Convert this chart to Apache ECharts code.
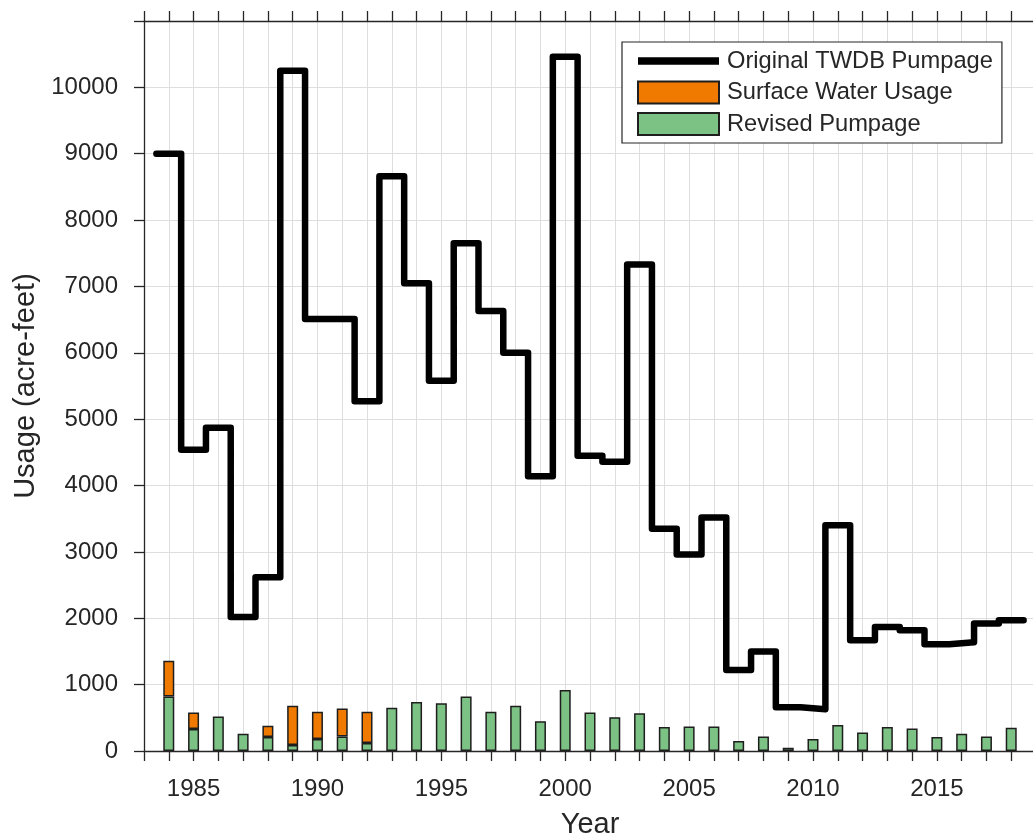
<!DOCTYPE html>
<html><head><meta charset="utf-8">
<script src="https://cdn.jsdelivr.net/npm/echarts@6/dist/echarts.min.js"></script>
<style>html,body{margin:0;padding:0;background:#fff}#c{width:1033px;height:834px}</style>
</head><body><div id="c"></div>
<script>
const years = [1984,1985,1986,1987,1988,1989,1990,1991,1992,1993,1994,1995,1996,1997,1998,1999,2000,2001,2002,2003,2004,2005,2006,2007,2008,2009,2010,2011,2012,2013,2014,2015,2016,2017,2018];
const originalPumpage = [9000,4540,4870,2020,2620,10250,6510,6510,5270,8660,7050,5580,7650,6630,6000,4140,10460,4450,4360,7330,3350,2960,3520,1220,1500,660,630,3400,1670,1870,1820,1610,1640,1920,1970];
const revisedPumpage = [820,330,520,260,210,90,180,220,120,650,740,720,820,590,680,450,920,580,510,570,360,370,370,150,220,50,180,390,280,360,340,210,260,220,350];
const surfaceWater = [540,250,0,0,170,590,410,420,470,0,0,0,0,0,0,0,0,0,0,0,0,0,0,0,0,0,0,0,0,0,0,0,0,0,0];
const yTicks = [0,1000,2000,3000,4000,5000,6000,7000,8000,9000,10000];
const xLabelYears = [1985,1990,1995,2000,2005,2010,2015];

const FONT = '"Liberation Sans", Arial, Helvetica, sans-serif';
const AX = '#262626';

const stepData = years.map((y,i)=>[y-0.5, originalPumpage[i]]);
stepData.push([years[years.length-1]+0.5, originalPumpage[originalPumpage.length-1]]);

const LINE_ICON = 'path://M0,0h0.01v0.01h-0.01z M0,7.2h81v7.6h-81z M80.99,21.99h0.01v0.01h-0.01z';

const chart = echarts.init(document.getElementById('c'), null, {renderer:'canvas'});
const xBase = {
  type:'value', min:1983, max:2019, interval:1,
  axisLine:{show:true, onZero:false, lineStyle:{color:AX, width:1.3}},
  axisTick:{show:true, inside:false, length:10, lineStyle:{color:AX, width:1.3}},
};
chart.setOption({
  animation:false,
  backgroundColor:'#fff',
  textStyle:{fontFamily:FONT},
  grid:{left:144, top:21, right:-3, bottom:83, containLabel:false, outerBoundsMode:'none'},
  xAxis:[
    Object.assign({}, xBase, {
      position:'bottom',
      name:'Year', nameLocation:'middle', nameGap:59,
      nameTextStyle:{fontSize:29, color:AX, fontFamily:FONT},
      axisLabel:{fontSize:24, color:AX, margin:26, fontFamily:FONT,
        formatter:(v)=> xLabelYears.indexOf(v) >= 0 ? String(v) : ''},
      splitLine:{show:true, lineStyle:{color:'#dedede', width:1}}
    }),
    Object.assign({}, xBase, {
      position:'top',
      axisLabel:{show:false},
      splitLine:{show:false}
    })
  ],
  yAxis:{
    type:'value', min:0, max:11000, interval:1000,
    name:'Usage (acre-feet)', nameLocation:'middle', nameGap:100,
    nameTextStyle:{fontSize:29, color:AX, fontFamily:FONT},
    axisLine:{show:true, lineStyle:{color:AX, width:1.3}},
    axisTick:{show:true, inside:false, length:10, lineStyle:{color:AX, width:1.3}},
    axisLabel:{fontSize:24, color:AX, margin:26, fontFamily:FONT,
      formatter:(v)=> yTicks.indexOf(v) >= 0 ? String(v) : ''},
    splitLine:{show:true, lineStyle:{color:'#dedede', width:1}}
  },
  legend:{
    orient:'vertical', left:622, top:42, padding:[7,9,7,15],
    itemWidth:81, itemHeight:22, itemGap:7.5,
    borderColor:AX, borderWidth:1.2, backgroundColor:'#fff',
    textStyle:{fontSize:23.7, color:AX, fontFamily:FONT, padding:[0,0,0,3]},
    data:[
      {name:'Original TWDB Pumpage', icon:LINE_ICON, itemStyle:{color:'#000', borderWidth:0}},
      {name:'Surface Water Usage', icon:'rect'},
      {name:'Revised Pumpage', icon:'rect'}
    ]
  },
  series:[
    {
      name:'Revised Pumpage', type:'bar', stack:'use', xAxisIndex:0,
      barWidth:11, encode:{x:1, y:0},
      itemStyle:{color:'#7cc284', borderColor:'#1e1e1e', borderWidth:1.5},
      data: years.map((y,i)=>[revisedPumpage[i], y])
    },
    {
      name:'Surface Water Usage', type:'bar', stack:'use', xAxisIndex:0,
      barWidth:11, encode:{x:1, y:0},
      itemStyle:{color:'#f07a00', borderColor:'#1e1e1e', borderWidth:1.5},
      data: years.map((y,i)=>[surfaceWater[i] > 0 ? surfaceWater[i] : '-', y])
    },
    {
      name:'Original TWDB Pumpage', type:'line', xAxisIndex:0,
      step:'end', symbol:'none', showSymbol:false, z:5,
      lineStyle:{color:'#000', width:6.5, join:'round', cap:'round'},
      itemStyle:{color:'#000'},
      data: stepData
    }
  ]
});
</script>
</body></html>
